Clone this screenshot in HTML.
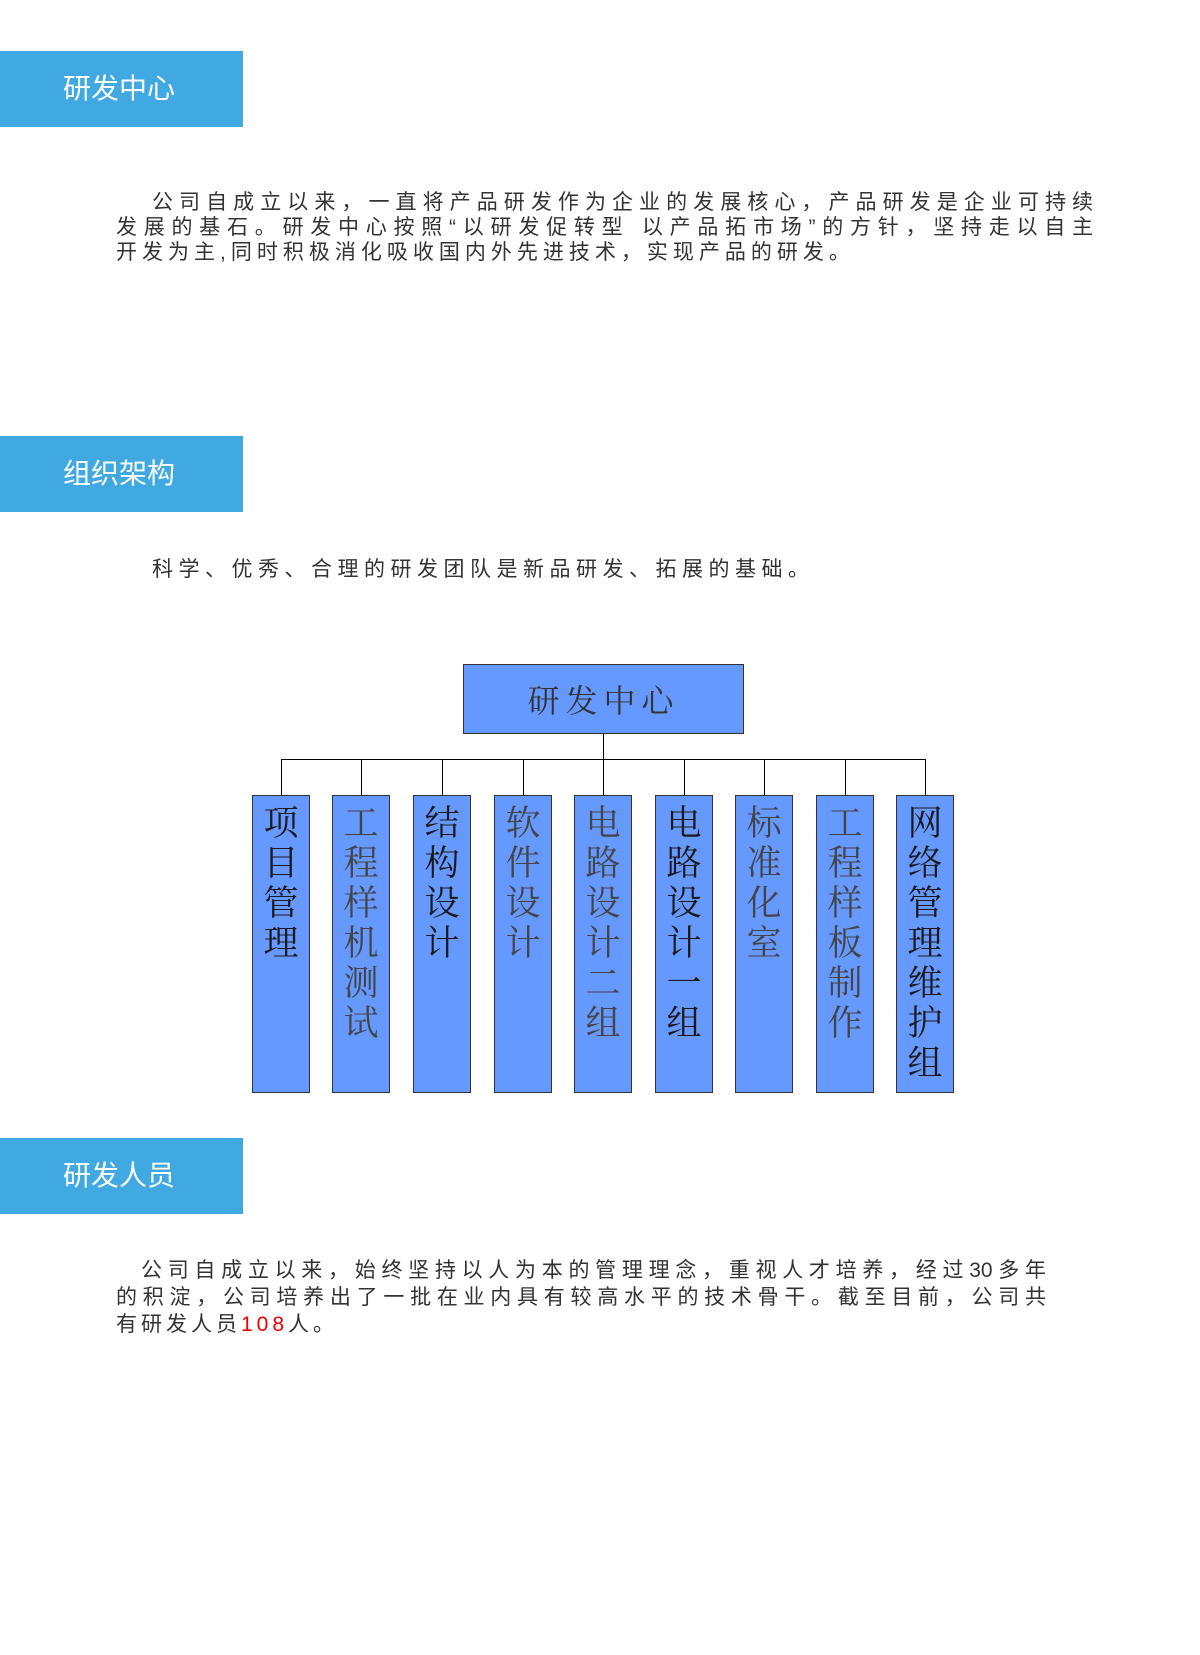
<!DOCTYPE html>
<html><head><meta charset="utf-8"><style>
body{margin:0;width:1200px;height:1655px;background:#fff;position:relative;overflow:hidden;font-family:"Liberation Sans","Noto Sans CJK SC",sans-serif;}
.h{position:absolute;left:0;width:243px;height:76px;background:#41a9e1;color:#fff;font-size:28px;line-height:76px;text-indent:63px;}
.p{position:absolute;color:#333;font-size:21px;}
.p div{white-space:nowrap;text-align:justify;text-align-last:justify;}
.p div.l{text-align-last:left;}
.box{position:absolute;background:#6699ff;border:1px solid #333;box-sizing:border-box;}
.col{position:absolute;top:795px;width:58px;height:298px;background:#6699ff;border:1px solid #333;box-sizing:border-box;color:#1a1a1a;font-size:35px;line-height:40px;text-align:center;padding-top:5px;font-family:"Noto Serif CJK SC",serif;}
.ln{position:absolute;background:#000;}
</style></head><body>
<div class="h" style="top:51px">研发中心</div>
<div class="p" style="left:116px;top:190px;width:977px;line-height:25px">
<div style="padding-left:36px">公司自成立以来，一直将产品研发作为企业的发展核心，产品研发是企业可持续</div>
<div>发展的基石。研发中心按照“以研发促转型 以产品拓市场”的方针，坚持走以自主</div>
<div class="l" style="letter-spacing:5px">开发为主,同时积极消化吸收国内外先进技术，实现产品的研发。</div>
</div>
<div class="h" style="top:436px">组织架构</div>
<div class="p" style="left:152px;top:553px;letter-spacing:5.5px">科学、优秀、合理的研发团队是新品研发、拓展的基础。</div>

<div class="box" style="left:463px;top:664px;width:281px;height:70px;color:#333;font-size:32px;line-height:68px;text-align:center;letter-spacing:6px;font-family:'Noto Serif CJK SC',serif">研发中心</div>
<div class="ln" style="left:603px;top:734px;width:1px;height:61px"></div>
<div class="ln" style="left:281px;top:759px;width:645px;height:1px"></div>
<div class="ln" style="left:281px;top:759px;width:1px;height:36px"></div>
<div class="ln" style="left:361px;top:759px;width:1px;height:36px"></div>
<div class="ln" style="left:442px;top:759px;width:1px;height:36px"></div>
<div class="ln" style="left:523px;top:759px;width:1px;height:36px"></div>
<div class="ln" style="left:684px;top:759px;width:1px;height:36px"></div>
<div class="ln" style="left:764px;top:759px;width:1px;height:36px"></div>
<div class="ln" style="left:845px;top:759px;width:1px;height:36px"></div>
<div class="ln" style="left:925px;top:759px;width:1px;height:36px"></div>
<div class="col" style="left:252px">项<br>目<br>管<br>理</div>
<div class="col" style="left:332px;color:#444">工<br>程<br>样<br>机<br>测<br>试</div>
<div class="col" style="left:413px">结<br>构<br>设<br>计</div>
<div class="col" style="left:494px;color:#444">软<br>件<br>设<br>计</div>
<div class="col" style="left:574px;color:#444">电<br>路<br>设<br>计<br>二<br>组</div>
<div class="col" style="left:655px">电<br>路<br>设<br>计<br>一<br>组</div>
<div class="col" style="left:735px;color:#444">标<br>准<br>化<br>室</div>
<div class="col" style="left:816px;color:#444">工<br>程<br>样<br>板<br>制<br>作</div>
<div class="col" style="left:896px">网<br>络<br>管<br>理<br>维<br>护<br>组</div>

<div class="h" style="top:1138px">研发人员</div>
<div class="p" style="left:116px;top:1257px;width:930px;line-height:27px">
<div style="padding-left:25px">公司自成立以来，始终坚持以人为本的管理理念，重视人才培养，经过30多年</div>
<div>的积淀，公司培养出了一批在业内具有较高水平的技术骨干。截至目前，公司共</div>
<div class="l" style="letter-spacing:4px">有研发人员<span style="color:#e00">108</span>人。</div>
</div>
</body></html>
